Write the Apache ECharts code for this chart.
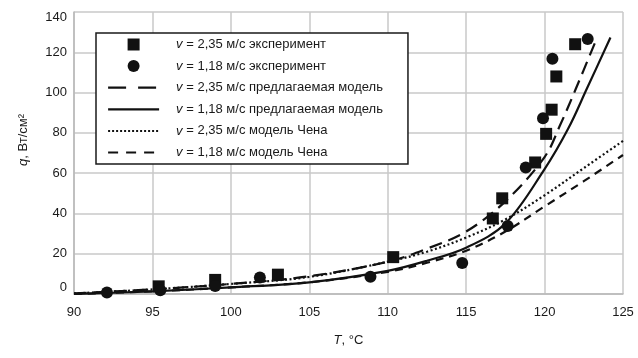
<!DOCTYPE html>
<html>
<head>
<meta charset="utf-8">
<script src="https://cdn.jsdelivr.net/npm/echarts@6/dist/echarts.min.js"></script>
<style>html,body{margin:0;padding:0;background:#fff}#c{width:638px;height:358px}</style>
</head>
<body>
<div id="c"></div>
<script>
// Experiment, v = 2,35 m/s (squares)
const sqT = [95.4, 99.0, 103.0, 110.35, 116.7, 117.3, 119.4, 120.1, 120.45, 120.75, 121.95];
const sqQ = [3.8, 7.0, 9.6, 18.3, 37.5, 47.5, 65.3, 79.5, 91.5, 108.0, 124.0];
// Experiment, v = 1,18 m/s (circles)
const ciT = [92.1, 95.5, 99.0, 101.85, 108.9, 114.75, 117.65, 118.8, 119.9, 120.5, 122.75];
const ciQ = [0.8, 1.8, 4.0, 8.2, 8.6, 15.4, 33.8, 62.8, 87.3, 116.8, 126.6];
// Proposed model, v = 2,35 (long dash)
const pm235T = [90, 95, 100, 105, 110, 112.5, 115, 117.5, 120, 121, 122, 123.2];
const pm235Q = [0.3, 2.3, 5.0, 8.8, 16, 22.5, 31, 46, 68, 84, 102, 124.5];
// Proposed model, v = 1,18 (solid)
const pm118T = [90, 95, 100, 105, 110, 112.5, 115, 117.5, 120, 121.5, 122.7, 124.2];
const pm118Q = [0, 1.3, 3.3, 5.8, 11.5, 16.5, 23, 35, 62, 82, 102, 127.3];
// Chen model, v = 2,35 (dotted)
const ch235T = [90, 95, 100, 105, 110, 112.5, 115, 117.5, 120, 122.5, 125];
const ch235Q = [0.3, 2.3, 5.0, 8.5, 16, 21, 28, 37, 49, 62.5, 76];
// Chen model, v = 1,18 (short dash)
const ch118T = [90, 95, 100, 105, 110, 112.5, 115, 117.5, 120, 122.5, 125];
const ch118Q = [0, 1.3, 3.3, 5.8, 11, 15.5, 21.5, 31, 43.5, 56, 69];

const names = [
  'v = 2,35 м/с эксперимент',
  'v = 1,18 м/с эксперимент',
  'v = 2,35 м/с предлагаемая модель',
  'v = 1,18 м/с предлагаемая модель',
  'v = 2,35 м/с модель Чена',
  'v = 1,18 м/с модель Чена'
];
const xTicks = [90, 95, 100, 105, 110, 115, 120, 125];
const yTicks = [0, 20, 40, 60, 80, 100, 120, 140];

const FONT = "'Liberation Sans', Arial, sans-serif";
const FS = 13;
const INK = '#111';
const TXT = '#1a1a1a';
const zip = (a, b) => a.map((v, i) => [v, b[i]]);

const chart = echarts.init(document.getElementById('c'), null, {renderer: 'canvas'});
const lineSeries = (name, T, Q, type, z) => ({
  name, type: 'line', data: zip(T, Q), smooth: 0.35, symbol: 'none', z,
  lineStyle: {color: INK, width: 2.2, type}, itemStyle: {color: INK}
});
const hiddenSym = {color: 'rgba(0,0,0,0)', opacity: 0, borderWidth: 0};

chart.setOption({
  animation: false,
  backgroundColor: '#fff',
  textStyle: {fontFamily: FONT},
  grid: {left: 74, right: 15, top: 12, bottom: 64, containLabel: false},
  xAxis: {
    type: 'value', min: xTicks[0], max: xTicks[xTicks.length - 1], interval: 5,
    axisLine: {show: true, lineStyle: {color: '#b8b8b8', width: 1.5}},
    axisTick: {show: false},
    splitLine: {show: true, lineStyle: {color: '#c9c9c9', width: 1.5}},
    axisLabel: {color: TXT, fontSize: FS, fontFamily: FONT, margin: 12},
    name: '{i|T}, °C', nameLocation: 'middle', nameGap: 40,
    nameTextStyle: {color: TXT, fontSize: FS, fontFamily: FONT,
      rich: {i: {fontStyle: 'italic', fontSize: FS, fontFamily: FONT, color: TXT}}}
  },
  yAxis: {
    type: 'value', min: yTicks[0], max: yTicks[yTicks.length - 1], interval: 20,
    axisLine: {show: true, lineStyle: {color: '#b8b8b8', width: 1.5}},
    axisTick: {show: false},
    splitLine: {show: true, lineStyle: {color: '#c9c9c9', width: 1.5}},
    axisLabel: {
      color: TXT, fontSize: FS, fontFamily: FONT, margin: 7,
      formatter: v => v === yTicks[0] ? '{b|' + v + '}' : (v === yTicks[yTicks.length - 1] ? '{t|' + v + '}' : String(v)),
      rich: {
        b: {padding: [0, 0, 14, 0], fontSize: FS, fontFamily: FONT, color: TXT},
        t: {padding: [10, 0, 0, 0], fontSize: FS, fontFamily: FONT, color: TXT}
      }
    },
    name: '{i|q}, Вт/см²', nameLocation: 'middle', nameGap: 44, nameRotate: 90,
    nameTextStyle: {color: TXT, fontSize: FS, fontFamily: FONT, padding: [0, 0, 0, 26],
      rich: {i: {fontStyle: 'italic', fontSize: FS, fontFamily: FONT, color: TXT}}}
  },
  legend: {
    orient: 'vertical', left: 96, top: 33,
    backgroundColor: '#fff', borderColor: TXT, borderWidth: 1.5, borderRadius: 0,
    padding: [5, 25, 5, 11],
    itemWidth: 51, itemHeight: 12, itemGap: 8.6,
    symbolKeepAspect: true,
    textStyle: {color: TXT, fontSize: FS, fontFamily: FONT, padding: [0, 0, 0, 12],
      rich: {i: {fontStyle: 'italic', fontSize: FS, fontFamily: FONT, color: TXT}}},
    formatter: n => n.replace(/^v/, '{i|v}'),
    data: [
      {name: names[0], icon: 'path://M0,0L10,0L10,10L0,10Z'},
      {name: names[1], icon: 'circle'},
      {name: names[2], lineStyle: {type: [18, 12], width: 2.2}, itemStyle: hiddenSym},
      {name: names[3], lineStyle: {type: 'solid', width: 2.2}, itemStyle: hiddenSym},
      {name: names[4], lineStyle: {type: [2, 2], width: 2}, itemStyle: hiddenSym},
      {name: names[5], lineStyle: {type: [10, 8], width: 2.2}, itemStyle: hiddenSym}
    ]
  },
  series: [
    {name: names[0], type: 'scatter', data: zip(sqT, sqQ), symbol: 'rect', symbolSize: 12, itemStyle: {color: INK, opacity: 1}, z: 5},
    {name: names[1], type: 'scatter', data: zip(ciT, ciQ), symbol: 'circle', symbolSize: 12, itemStyle: {color: INK, opacity: 1}, z: 5},
    lineSeries(names[2], pm235T, pm235Q, [13, 7], 3),
    lineSeries(names[3], pm118T, pm118Q, 'solid', 3),
    lineSeries(names[4], ch235T, ch235Q, [2, 2.5], 3),
    lineSeries(names[5], ch118T, ch118Q, [8, 6], 3)
  ]
});
</script>
</body>
</html>
